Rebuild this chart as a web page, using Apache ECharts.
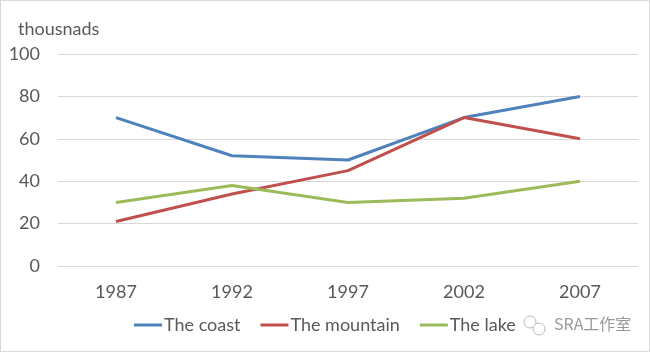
<!DOCTYPE html>
<html><head><meta charset="utf-8">
<script src="https://cdn.jsdelivr.net/npm/echarts@6/dist/echarts.min.js"></script>
<style>
html,body{margin:0;padding:0;background:#fff;}
#c{position:absolute;left:0;top:0;width:648px;height:350px;border:1px solid #d9d9d9;}
</style></head><body>
<div id="c"></div>
<script>
var categories = ['1987','1992','1997','2002','2007'];
var coast = [70,52,50,70,80];
var mountain = [21,34,45,70,60];
var lake = [30,38,30,32,40];
var seriesNames = ['The coast','The mountain','The lake'];
var colors = ['#4F81BD','#C0504D','#9BBB59'];
var font = 'Lato, "Open Sans", sans-serif';
var chart = echarts.init(document.getElementById('c'));
function mk(name, data, color){
  return {name:name,type:'line',data:data,symbol:'none',smooth:false,
    lineStyle:{color:color,width:3},itemStyle:{color:color}};
}
chart.setOption({
  animation:false,
  grid:{left:57,right:11,top:53,bottom:85},
  title:{text:'thousnads',left:12,top:14,textStyle:{fontFamily:font,fontSize:18,fontWeight:'normal',color:'#595959'}},
  legend:{bottom:12,left:128,itemWidth:28,itemHeight:3,itemGap:20,icon:'rect',
    textStyle:{fontFamily:font,fontSize:18,color:'#595959',padding:[0,0,0,-3]},
    data:seriesNames},
  xAxis:{type:'category',data:categories,boundaryGap:true,
    axisLine:{show:false},axisTick:{show:false},
    axisLabel:{fontFamily:font,fontSize:18,color:'#595959',margin:17}},
  yAxis:{type:'value',min:0,max:100,interval:20,
    axisLine:{show:false},axisTick:{show:false},
    splitLine:{lineStyle:{color:'#d9d9d9',width:1}},
    axisLabel:{fontFamily:font,fontSize:18,color:'#595959',margin:18}},
  series:[mk(seriesNames[0],coast,colors[0]),mk(seriesNames[1],mountain,colors[1]),mk(seriesNames[2],lake,colors[2])],
  graphic:[
    {type:'circle',shape:{cx:529,cy:321,r:6},style:{fill:'none',stroke:'#bbb',lineWidth:1}},
    {type:'circle',shape:{cx:538,cy:328,r:6},style:{fill:'#fff',stroke:'#bbb',lineWidth:1}},
    {type:'text',left:553,top:315,style:{text:'SRA工作室',fontFamily:'"Noto Sans CJK SC", sans-serif',fontSize:16,fill:'#999'}}
  ]
});
</script></body></html>
